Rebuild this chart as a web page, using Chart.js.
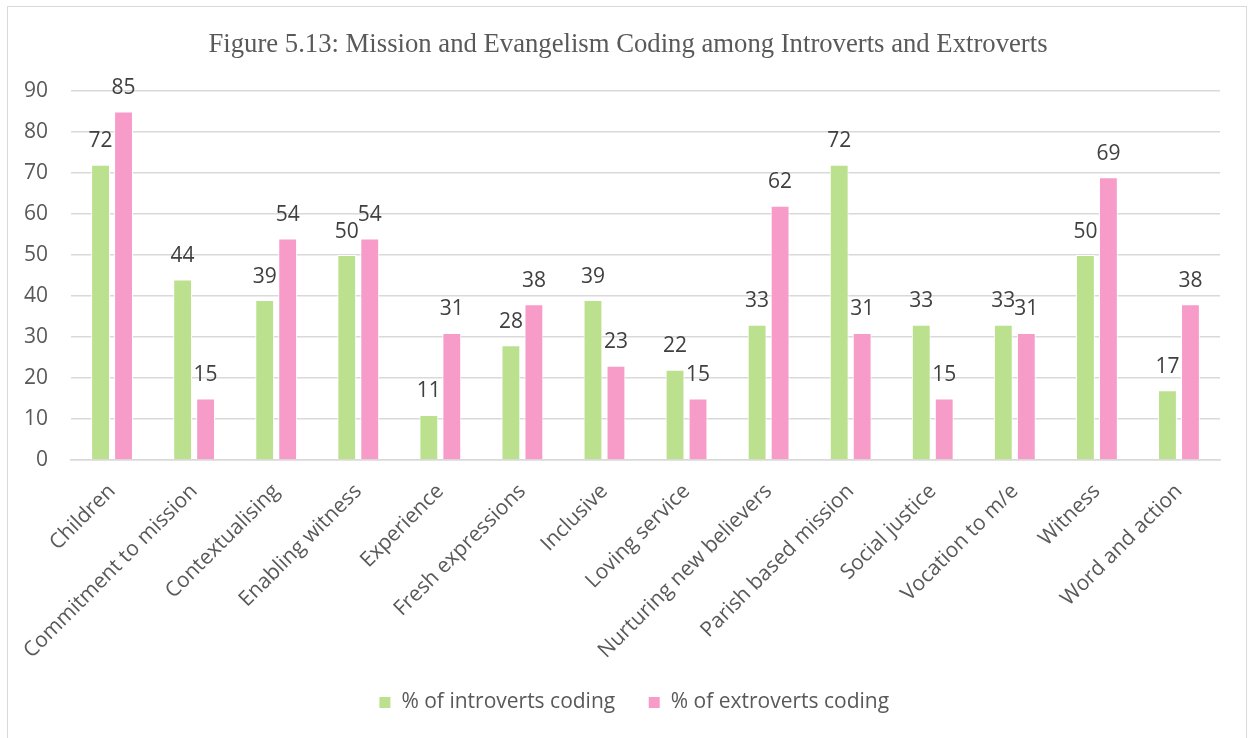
<!DOCTYPE html>
<html>
<head>
<meta charset="utf-8">
<script src="https://cdn.jsdelivr.net/npm/chart.js@4/dist/chart.umd.min.js"></script>
<style>
  body { margin: 0; background: #fff; }
  #frame { position: absolute; left: 7px; top: 6px; width: 1240px; height: 740px; border: 1px solid #d9d9d9; box-sizing: border-box; }
</style>
</head>
<body>
<div id="frame"><canvas id="codingChart"></canvas></div>
<script>
// Categories and series
const categories = ['Children', 'Commitment to mission', 'Contextualising', 'Enabling witness', 'Experience',
  'Fresh expressions', 'Inclusive', 'Loving service', 'Nurturing new believers', 'Parish based mission',
  'Social justice', 'Vocation to m/e', 'Witness', 'Word and action'];
const introverts = [72, 44, 39, 50, 11, 28, 39, 22, 33, 72, 33, 33, 50, 17];
const extroverts = [85, 15, 54, 54, 31, 38, 23, 15, 62, 31, 15, 31, 69, 38];
const yTicks = [0, 10, 20, 30, 40, 50, 60, 70, 80, 90];

const font = "'Open Sans', 'Noto Sans', sans-serif";

// value labels above each bar
const barLabels = {
  id: 'barLabels',
  afterDatasetsDraw(chart) {
    const c = chart.ctx;
    c.save();
    c.font = '21px ' + font;
    c.fillStyle = '#404040';
    c.textAlign = 'center';
    c.textBaseline = 'bottom';
    chart.data.datasets.forEach((ds, i) => {
      chart.getDatasetMeta(i).data.forEach((bar, j) => {
        c.fillText(ds.data[j], bar.x, bar.y - 13);
      });
    });
    c.restore();
  }
};

// let the long rotated labels run past the axis box, and centre title/legend on the frame
const layoutTweaks = {
  id: 'layoutTweaks',
  afterLayout(chart) {
    chart.scales.x.bottom = chart.height;
    chart.titleBlock.left += 14;
    chart.titleBlock.right += 14;
    chart.legend.left += 20;
    chart.legend.right += 20;
  }
};

new Chart(document.getElementById('codingChart'), {
  type: 'bar',
  data: {
    labels: categories,
    datasets: [
      { label: '% of introverts coding', data: introverts, backgroundColor: '#bbe08e', borderColor: '#ffffff', borderWidth: 1 },
      { label: '% of extroverts coding', data: extroverts, backgroundColor: '#f79bc9', borderColor: '#ffffff', borderWidth: 1 }
    ]
  },
  options: {
    responsive: true,
    maintainAspectRatio: false,
    animation: false,
    categoryPercentage: 0.56,
    barPercentage: 0.82,
    layout: { padding: { left: 0, right: 26, top: 0, bottom: 22 } },
    plugins: {
      title: {
        display: true,
        text: 'Figure 5.13: Mission and Evangelism Coding among Introverts and Extroverts',
        color: '#595959',
        font: { family: "'Liberation Serif', 'DejaVu Serif', serif", size: 26.7, weight: 'normal' },
        padding: { top: 22, bottom: 30 }
      },
      legend: {
        position: 'bottom',
        labels: {
          boxWidth: 12,
          boxHeight: 12,
          padding: 33,
          color: '#595959',
          font: { family: font, size: 21 }
        }
      },
      tooltip: { enabled: false }
    },
    scales: {
      y: {
        min: 0,
        max: 90,
        afterBuildTicks: axis => { axis.ticks = yTicks.map(v => ({ value: v })); },
        afterFit: axis => { axis.width = 63; },
        grid: { color: '#d9d9d9', lineWidth: 1.5, drawTicks: false },
        border: { display: false },
        ticks: { color: '#595959', padding: 23, font: { family: font, size: 21 } }
      },
      x: {
        afterFit: axis => { axis.height = 199; },
        grid: { display: false },
        border: { color: '#d9d9d9', width: 1.5 },
        ticks: { color: '#595959', minRotation: 45, maxRotation: 45, padding: 11, font: { family: font, size: 21 } }
      }
    }
  },
  plugins: [barLabels, layoutTweaks]
});
</script>
</body>
</html>
